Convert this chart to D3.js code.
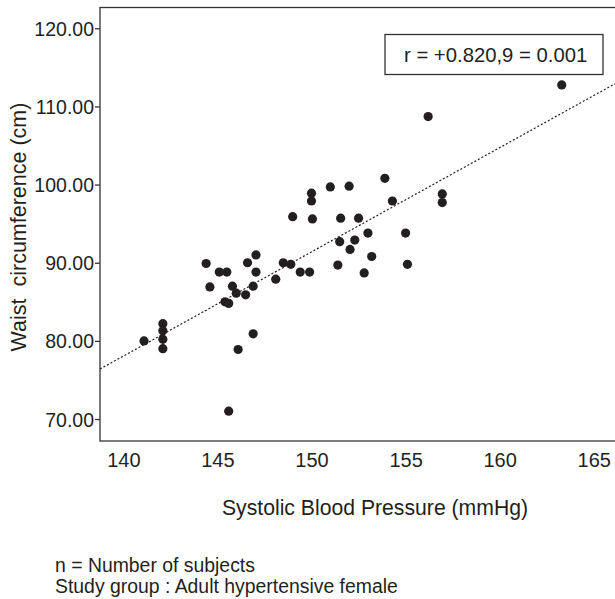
<!DOCTYPE html>
<html>
<head>
<meta charset="utf-8">
<script src="https://cdn.jsdelivr.net/npm/d3@7"></script>
<style>
  body { margin: 0; background: #fff; }
  text { font-family: "Liberation Sans", Arial, sans-serif; fill: #231f20; }
</style>
</head>
<body>
<svg id="chart"></svg>
<script>
// systolic BP (mmHg) and waist circumference (cm)
const sbp = [141.1, 142.1, 142.1, 142.1, 142.1, 144.4, 144.6, 145.1, 145.5, 145.4,
  145.6, 145.8, 146.0, 146.1, 145.6, 146.6, 147.05, 147.05, 146.9, 146.5,
  146.9, 148.1, 148.5, 148.9, 149.4, 149.9, 149.0, 150.0, 150.0, 150.05,
  151.0, 152.0, 153.9, 154.3, 151.55, 152.5, 153.0, 151.5, 152.3, 152.05,
  153.2, 151.4, 152.8, 155.0, 155.1, 156.2, 156.95, 156.95, 163.3];
const waist = [80.0, 82.2, 81.3, 80.2, 79.0, 89.9, 86.9, 88.8, 88.8, 85.0,
  84.8, 87.0, 86.1, 78.9, 71.0, 90.0, 91.0, 88.8, 87.0, 85.9,
  80.9, 87.9, 90.0, 89.8, 88.8, 88.8, 95.9, 98.9, 97.9, 95.6,
  99.7, 99.8, 100.8, 97.9, 95.7, 95.7, 93.8, 92.7, 92.9, 91.7,
  90.8, 89.7, 88.7, 93.8, 89.8, 108.7, 98.8, 97.7, 112.75];

// fitted line end points
const fitX = [138.76, 166.13];
const fitY = [76.4, 112.9];

const xTicks = [140, 145, 150, 155, 160, 165];
const yTicks = [70, 80, 90, 100, 110, 120];

const W = 615, H = 599;
const padL = 100, padT = 7.5, padB = 441, padR = 615;

const svg = d3.select("#chart").attr("width", W).attr("height", H);

const x = d3.scaleLinear().domain([138.76, 166.13]).range([padL, padR]);
const y = d3.scaleLinear().domain([67.19, 122.66]).range([padB, padT]);

// frame (right edge runs off the picture)
svg.append("rect")
  .attr("x", padL).attr("y", padT)
  .attr("width", padR - padL + 10).attr("height", padB - padT)
  .attr("fill", "none").attr("stroke", "#333").attr("stroke-width", 1.3);

// y axis: ticks out to the left
const yAxis = d3.axisLeft(y).tickValues(yTicks).tickSize(5).tickPadding(1)
  .tickFormat(d3.format(".2f"));
const gy = svg.append("g").attr("transform", "translate(" + padL + ",0)").call(yAxis);
gy.select(".domain").remove();
gy.selectAll(".tick line").attr("stroke", "#333").attr("stroke-width", 1.3);
gy.selectAll(".tick text").attr("font-size", 19.5).attr("dy", "0.36em");

// x axis: labels only
const xAxis = d3.axisBottom(x).tickValues(xTicks).tickSize(0).tickPadding(12);
const gx = svg.append("g").attr("transform", "translate(0," + padB + ")").call(xAxis);
gx.select(".domain").remove();
gx.selectAll(".tick text").attr("font-size", 20);

// fit line
svg.append("line")
  .attr("x1", x(fitX[0])).attr("y1", y(fitY[0]))
  .attr("x2", x(fitX[1])).attr("y2", y(fitY[1]))
  .attr("stroke", "#231f20").attr("stroke-width", 1.2)
  .attr("stroke-dasharray", "2,2");

// points
svg.selectAll(".dot")
  .data(sbp.map((v, i) => [v, waist[i]]))
  .enter()
  .append("circle")
  .attr("class", "dot")
  .attr("cx", d => x(d[0]))
  .attr("cy", d => y(d[1]))
  .attr("r", 4.6)
  .attr("fill", "#231f20");

// r box
svg.append("rect")
  .attr("x", 385).attr("y", 34.5).attr("width", 218).attr("height", 40)
  .attr("fill", "#fff").attr("stroke", "#333").attr("stroke-width", 1.3);
svg.append("text").attr("x", 404).attr("y", 61.5).attr("font-size", 20.3)
  .text("r = +0.820,9 = 0.001");

// axis titles
svg.append("text")
  .attr("x", 375).attr("y", 515).attr("text-anchor", "middle").attr("font-size", 21.2)
  .text("Systolic Blood Pressure (mmHg)");
svg.append("text")
  .attr("transform", "translate(26,227) rotate(-90)")
  .attr("text-anchor", "middle").attr("font-size", 21.5)
  .style("white-space", "pre")
  .text("Waist  circumference (cm)");

// notes
svg.append("text").attr("x", 55).attr("y", 572).attr("font-size", 19.4)
  .text("n = Number of subjects");
svg.append("text").attr("x", 55).attr("y", 593).attr("font-size", 19.4)
  .text("Study group : Adult hypertensive female");
</script>
</body>
</html>
